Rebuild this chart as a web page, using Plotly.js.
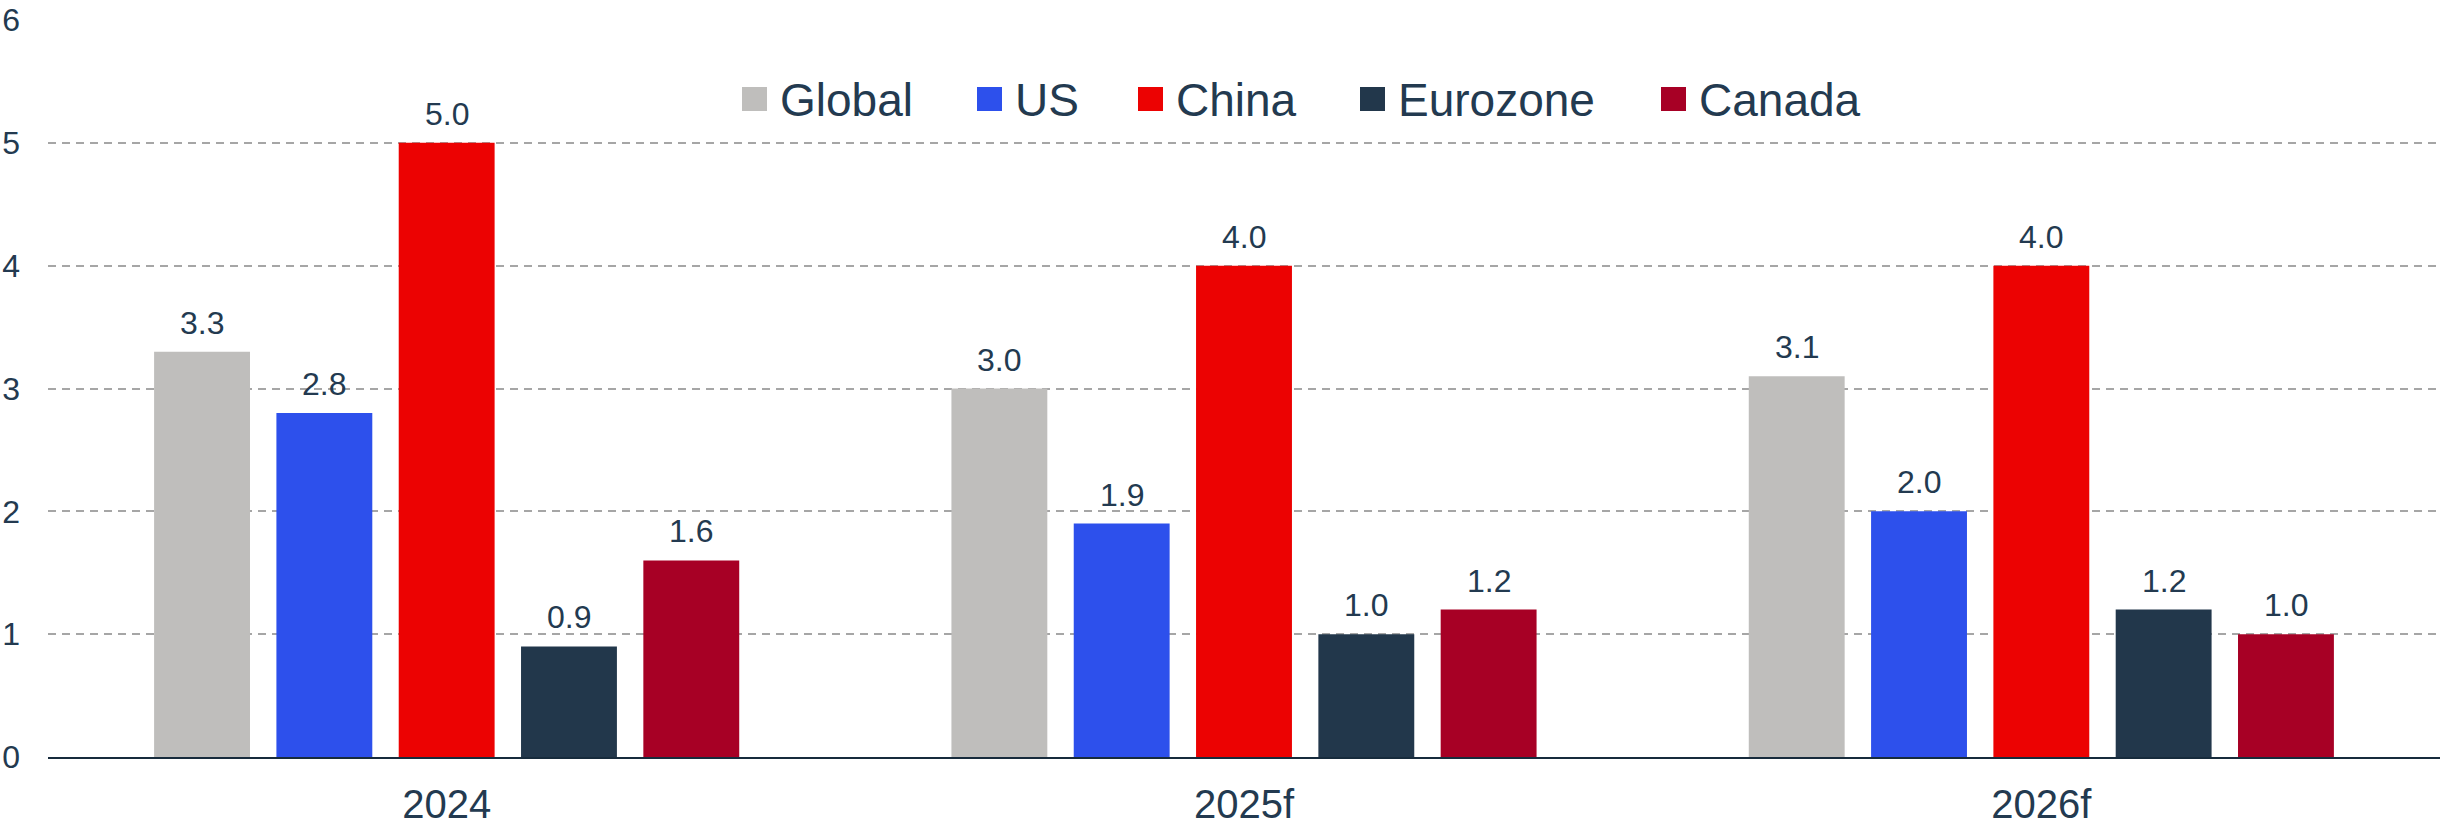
<!DOCTYPE html>
<html>
<head>
<meta charset="utf-8">
<script src="https://cdn.plot.ly/plotly-3.0.1.min.js"></script>
<style>
  html, body { margin: 0; padding: 0; background: #ffffff; }
  #chart { width: 2440px; height: 830px; }
</style>
</head>
<body>
<div id="chart"></div>
<script>
// ---- Data ----
const categories = ['2024', '2025f', '2026f'];
const seriesNames = ['Global', 'US', 'China', 'Eurozone', 'Canada'];
const seriesColors = ['#BFBEBC', '#2D50EC', '#EC0202', '#22374B', '#A70025'];
const globalVals = [3.3, 3.0, 3.1];
const usVals = [2.8, 1.9, 2.0];
const chinaVals = [5.0, 4.0, 4.0];
const eurozoneVals = [0.9, 1.0, 1.2];
const canadaVals = [1.6, 1.2, 1.0];
const seriesValues = [globalVals, usVals, chinaVals, eurozoneVals, canadaVals];
const yTicks = [0, 1, 2, 3, 4, 5, 6];

// ---- Layout constants ----
const W = 2440, H = 830;
const M = { l: 48, r: 0, t: 20, b: 73 };
const plotW = W - M.l - M.r, plotH = H - M.t - M.b;
const FONT = '"Liberation Sans", Arial, Helvetica, sans-serif';
const TEXT_COLOR = '#233A50';
const BARGAP = 0.233, BARGROUPGAP = 0.216;

const traces = seriesNames.map((name, i) => ({
  type: 'bar',
  name: name,
  x: categories,
  y: seriesValues[i],
  marker: { color: seriesColors[i], line: { width: 0 } },
  cliponaxis: false,
  showlegend: false,
  hoverinfo: 'x+y+name'
}));

// Value labels anchored to each bar through the axes (category index + offset to its slot)
const slotPx = (plotW / categories.length) * (1 - BARGAP) / seriesNames.length;
const valueLabels = [];
seriesNames.forEach((n, i) => {
  seriesValues[i].forEach((v, j) => {
    valueLabels.push({
      xref: 'x', yref: 'y',
      x: j, y: v,
      xshift: (i - (seriesNames.length - 1) / 2) * slotPx,
      yshift: 9,
      xanchor: 'center', yanchor: 'bottom',
      text: v.toFixed(1), showarrow: false,
      font: { family: FONT, size: 32, color: TEXT_COLOR }
    });
  });
});

// Custom legend (large square swatches)
const legendSquareLeft = [742, 977, 1138, 1360, 1661];
const sqW = 25, sqTop = 87, sqBottom = 111;
const px2x = px => (px - M.l) / plotW;
const py2y = py => (H - M.b - py) / plotH;

const shapes = seriesNames.map((n, i) => ({
  type: 'rect', xref: 'paper', yref: 'paper', layer: 'above',
  x0: px2x(legendSquareLeft[i]), x1: px2x(legendSquareLeft[i] + sqW),
  y0: py2y(sqBottom), y1: py2y(sqTop),
  fillcolor: seriesColors[i], line: { width: 0 }
}));

const legendLabels = seriesNames.map((n, i) => ({
  xref: 'paper', yref: 'paper',
  x: px2x(legendSquareLeft[i] + 36), y: py2y(100),
  xanchor: 'left', yanchor: 'middle',
  text: n, showarrow: false,
  font: { family: FONT, size: 46, color: TEXT_COLOR }
}));

const layout = {
  width: W, height: H,
  margin: M,
  paper_bgcolor: '#ffffff',
  plot_bgcolor: '#ffffff',
  barmode: 'group',
  bargap: BARGAP,
  bargroupgap: BARGROUPGAP,
  showlegend: false,
  font: { family: FONT, color: TEXT_COLOR },
  xaxis: {
    type: 'category',
    categoryorder: 'array', categoryarray: categories,
    range: [-0.5, categories.length - 0.5],
    tickfont: { family: FONT, size: 40, color: TEXT_COLOR },
    showline: true, linecolor: '#172B3C', linewidth: 2,
    showgrid: false, ticks: '', ticklabelstandoff: 11,
    zeroline: false
  },
  yaxis: {
    range: [0, 6],
    tickvals: yTicks,
    ticktext: yTicks.map(String),
    tickfont: { family: FONT, size: 32, color: TEXT_COLOR },
    showgrid: true, gridcolor: '#A6A6A6', gridwidth: 2, griddash: '8px,6px',
    zeroline: false, showline: false, ticks: '',
    ticklabelstandoff: 27
  },
  shapes: shapes,
  annotations: valueLabels.concat(legendLabels)
};

Plotly.newPlot('chart', traces, layout, { displayModeBar: false, staticPlot: true });
</script>
</body>
</html>
